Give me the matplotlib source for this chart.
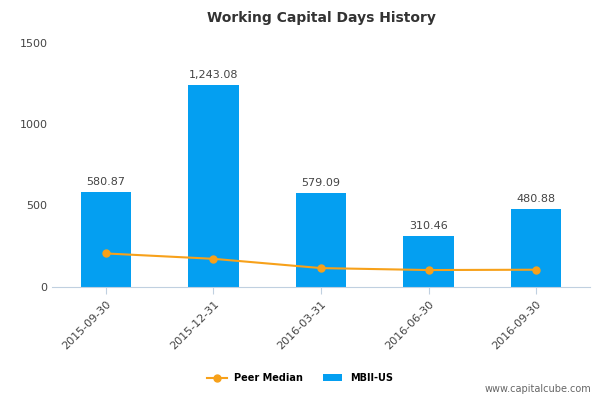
import matplotlib
matplotlib.use("Agg")
import matplotlib.pyplot as plt
import numpy as np

dates = ["2015-09-30", "2015-12-31", "2016-03-31", "2016-06-30", "2016-09-30"]
mbii = [580.87, 1243.08, 579.09, 310.46, 480.88]
peer = [205, 172, 115, 103, 105]

fig = plt.figure(figsize=(6, 4), dpi=100)
ax = fig.add_axes([0.087, 0.283, 0.896, 0.61])
x = np.arange(len(dates))
ax.bar(x, mbii, width=0.47, color="#049ff1", label="MBII-US", zorder=2)
ax.plot(x, peer, color="#f7a11a", marker="o", markersize=5, linewidth=1.5, label="Peer Median", zorder=3)
for xi, v in zip(x, mbii):
    ax.text(xi, v + 30, f"{v:,.2f}", ha="center", va="bottom", fontsize=8, color="#444444")

ax.set_xlim(-0.5, len(dates) - 0.5)
ax.set_ylim(0, 1500)
ax.set_yticks([0, 500, 1000, 1500])
ax.set_xticks(x)
ax.set_xticklabels(dates, rotation=45, ha="right", rotation_mode="anchor")
ax.tick_params(axis="both", labelsize=8, colors="#444444", length=0)
ax.tick_params(axis="x", length=5, color="#c0d0e0")
for s in ["top", "right", "left"]:
    ax.spines[s].set_visible(False)
ax.spines["bottom"].set_color("#c0d0e0")
ax.set_title("Working Capital Days History", fontsize=10, fontweight="bold", color="#333333", pad=15)
fig.legend(loc="lower center", bbox_to_anchor=(0.5, 0.02), ncol=2, frameon=False, fontsize=7,
           prop={"weight": "bold", "size": 7})
fig.text(0.985, 0.02, "www.capitalcube.com", ha="right", fontsize=7, color="#666666")
fig.savefig("out.png")
